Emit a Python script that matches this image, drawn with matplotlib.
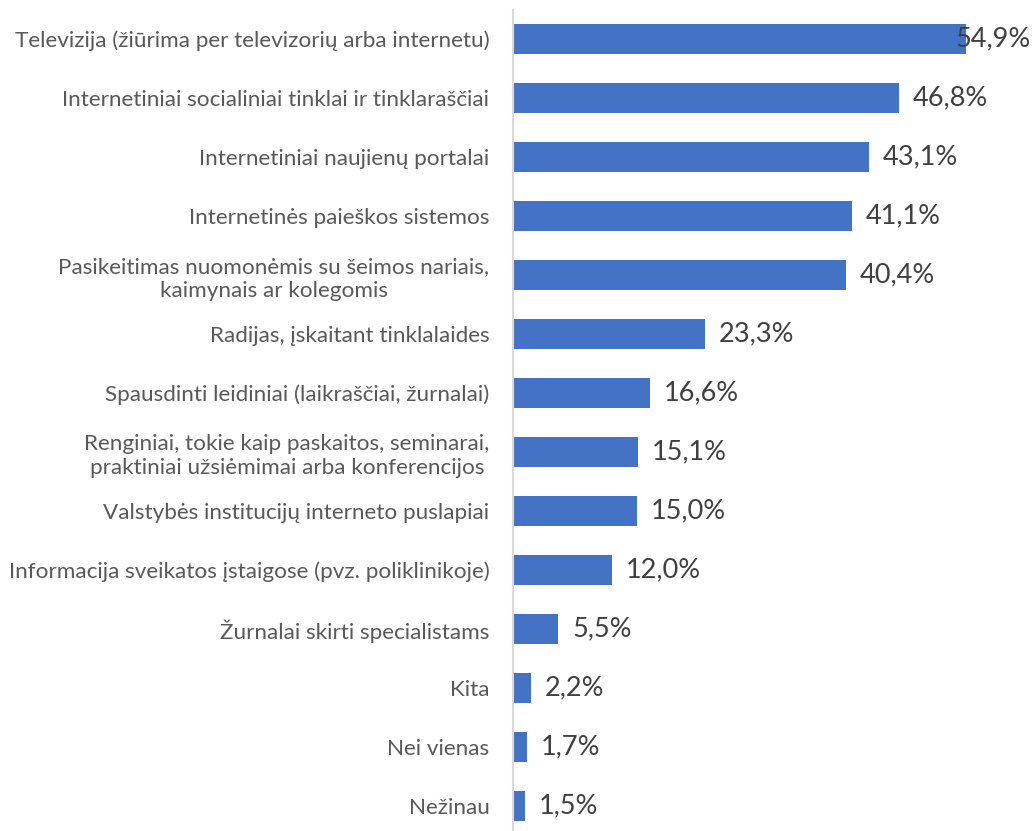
import matplotlib
matplotlib.use("Agg")
import matplotlib.pyplot as plt

categories = [
    "Televizija (žiūrima per televizorių arba internetu)",
    "Internetiniai socialiniai tinklai ir tinklaraščiai",
    "Internetiniai naujienų portalai",
    "Internetinės paieškos sistemos",
    "Pasikeitimas nuomonėmis su šeimos nariais,\nkaimynais ar kolegomis",
    "Radijas, įskaitant tinklalaides",
    "Spausdinti leidiniai (laikraščiai, žurnalai)",
    "Renginiai, tokie kaip paskaitos, seminarai,\npraktiniai užsiėmimai arba konferencijos",
    "Valstybės institucijų interneto puslapiai",
    "Informacija sveikatos įstaigose (pvz. poliklinikoje)",
    "Žurnalai skirti specialistams",
    "Kita",
    "Nei vienas",
    "Nežinau",
]
values = [54.9, 46.8, 43.1, 41.1, 40.4, 23.3, 16.6, 15.1, 15.0, 12.0, 5.5, 2.2, 1.7, 1.5]
value_labels = ["54,9%", "46,8%", "43,1%", "41,1%", "40,4%", "23,3%", "16,6%",
                "15,1%", "15,0%", "12,0%", "5,5%", "2,2%", "1,7%", "1,5%"]

plt.rcParams['font.family'] = ['Lato', 'DejaVu Sans']

W, H = 1033, 831
fig = plt.figure(figsize=(W / 100, H / 100), dpi=100)
ax = fig.add_axes([513 / W, 0, (W - 513) / W, (H - 10) / H])

pos = list(range(len(categories)))
ax.barh(pos, values, height=0.5, color="#4472C4", edgecolor="none")

ax.set_xlim(0, (W - 513) / 8.25)
ax.set_ylim(13.42, -0.49)
ax.set_yticks(pos)
ax.set_yticklabels(categories, fontsize=16.2, color="#595959",
                   multialignment="center", linespacing=1.25)
ax.tick_params(axis="y", length=0, pad=17)
ax.set_xticks([])
for s in ["top", "right", "bottom"]:
    ax.spines[s].set_visible(False)
ax.spines["left"].set_color("#D9D9D9")
ax.spines["left"].set_linewidth(1.5)

xmax = ax.get_xlim()[1]
for p, v, lab in zip(pos, values, value_labels):
    if v > 52:
        ax.text(xmax - 0.3, p, lab, ha="right", va="center", fontsize=19.5, color="#404040")
    else:
        ax.annotate(lab, (v, p), xytext=(10, 0), textcoords="offset points",
                    ha="left", va="center", fontsize=19.5, color="#404040")

fig.savefig("out.png", dpi=100)
